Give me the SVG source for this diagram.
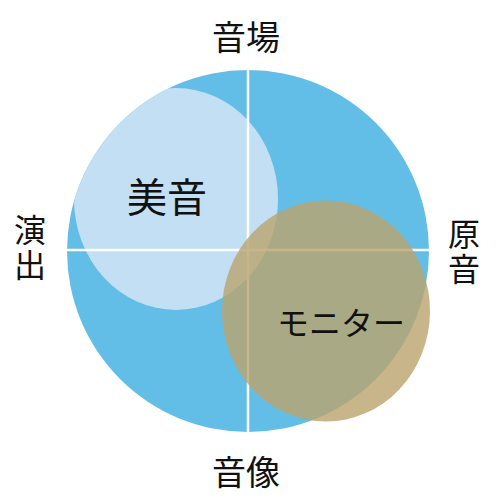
<svg xmlns="http://www.w3.org/2000/svg" width="500" height="498" viewBox="0 0 500 498">
<style>
.t{font-family:"Noto Sans CJK JP","Noto Sans",sans-serif;fill:#111;text-anchor:middle}
.v{writing-mode:vertical-rl;letter-spacing:3px}
.ax{stroke:#fff;stroke-width:2.5;fill:none}
</style>
<defs>
<clipPath id="bc"><circle cx="248" cy="251" r="181"/></clipPath>
</defs>
<rect width="500" height="498" fill="#fff"/>
<g id="base">
<circle cx="248" cy="251" r="181" fill="#63BEE7"/>
</g>
<g id="bion">
<ellipse cx="176" cy="199" rx="102" ry="111" fill="#C2DFF3" clip-path="url(#bc)"/>
<text class="t" x="167" y="212" font-size="40">美音</text>
</g>
<g id="connectors">
<line class="ax" x1="248" y1="70" x2="248" y2="433"/>
<line class="ax" x1="67" y1="250" x2="429" y2="250"/>
</g>
<g id="monitor">
<ellipse cx="326" cy="311" rx="104" ry="110.5" fill="rgb(186,164,109)" fill-opacity="0.8"/>
<text class="t" x="341" y="335" font-size="32">モニター</text>
</g>
<g id="onba">
<text class="t" x="246" y="50" font-size="34">音場</text>
</g>
<g id="onzo">
<text class="t" x="246" y="485" font-size="34">音像</text>
</g>
<g id="enshutsu">
<text class="t v" x="30" y="249" font-size="32">演出</text>
</g>
<g id="genon">
<text class="t v" x="464" y="253" font-size="32">原音</text>
</g>
</svg>
